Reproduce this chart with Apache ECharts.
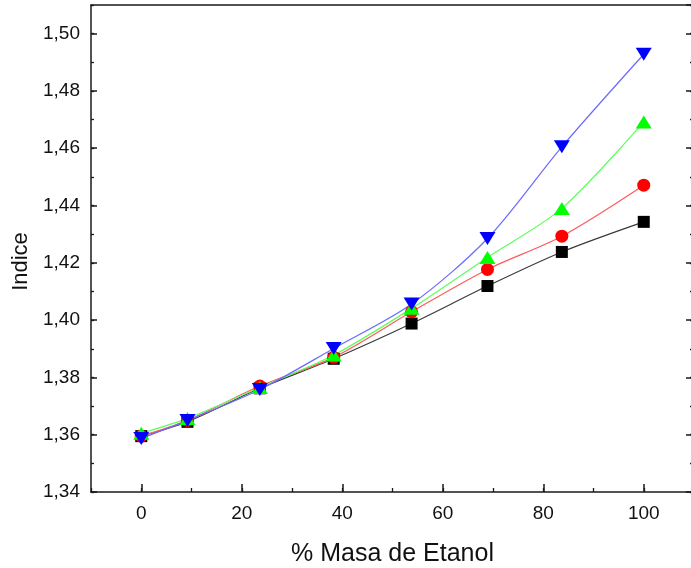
<!DOCTYPE html>
<html><head><meta charset="utf-8">
<script src="https://cdn.jsdelivr.net/npm/echarts@6/dist/echarts.min.js"></script>
<style>html,body{margin:0;padding:0;background:#fff}#c{width:691px;height:568px}</style>
</head><body><div id="c"></div>
<script>
// Data
const xValues = [0, 9.2, 23.6, 38.3, 53.8, 68.9, 83.7, 100];
const blackValues = [1.3595, 1.3645, 1.3762, 1.3865, 1.3988, 1.4119, 1.4238, 1.4343];
const redValues   = [1.3595, 1.3650, 1.3770, 1.3870, 1.4029, 1.4177, 1.4293, 1.4471];
const greenValues = [1.3605, 1.3657, 1.3765, 1.3878, 1.4041, 1.4219, 1.4390, 1.4692];
const blueValues  = [1.3587, 1.3650, 1.3758, 1.3901, 1.4056, 1.4285, 1.4605, 1.4928];
const xTickLabels = [0, 20, 40, 60, 80, 100];
const yTickLabels = ['1,34', '1,36', '1,38', '1,40', '1,42', '1,44', '1,46', '1,48', '1,50'];

const pairs = v => xValues.map((x, i) => [x, v[i]]);
const FONT = 'Liberation Sans, Arial, sans-serif';
const AX = '#1a1a1a';

const chart = echarts.init(document.getElementById('c'), null, {renderer: 'canvas'});

const baseX = {type: 'value', min: -10, max: 110, splitLine: {show: false}, gridIndex: 0};
const baseY = {type: 'value', min: 1.34, max: 1.51, splitLine: {show: false}, gridIndex: 0};

function mk(name, vals, lineColor, color, symbol, size, rotate) {
  return {
    name, type: 'line', xAxisIndex: 0, yAxisIndex: 0,
    data: pairs(vals), smooth: 0.3,
    symbol, symbolSize: size, symbolRotate: rotate || 0,
    showAllSymbol: true,
    lineStyle: {color: lineColor, width: 1.2},
    itemStyle: {color: color, borderWidth: 0},
    emphasis: {disabled: true},
    z: 3
  };
}

chart.setOption({
  animation: false,
  backgroundColor: '#fff',
  grid: {left: 91, top: 5, right: -3, height: 487, show: false, containLabel: false, outerBoundsMode: 'none'},
  xAxis: [
    Object.assign({}, baseX, {
      position: 'bottom', splitNumber: 6,
      axisLine: {show: true, onZero: false, lineStyle: {color: AX, width: 1.5}},
      axisTick: {show: true, inside: true, length: 8, lineStyle: {color: AX, width: 1.5}},
      axisLabel: {show: true, margin: 12, fontSize: 19, fontFamily: FONT, color: '#111',
        showMinLabel: false, showMaxLabel: false,
        formatter: v => xTickLabels.indexOf(Math.round(v)) >= 0 && Math.abs(v - Math.round(v)) < 1e-6 ? String(Math.round(v)) : ''},
      name: '% Masa de Etanol', nameLocation: 'middle', nameGap: 50,
      nameTextStyle: {fontSize: 25, fontFamily: FONT, color: '#111'}
    }),
    Object.assign({}, baseX, {
      position: 'bottom', interval: 10,
      axisLine: {show: false, onZero: false},
      axisTick: {show: true, inside: true, length: 4, lineStyle: {color: AX, width: 1.3}},
      axisLabel: {show: false}
    }),
    Object.assign({}, baseX, {
      position: 'top', interval: 10,
      axisLine: {show: true, onZero: false, lineStyle: {color: AX, width: 1.5}},
      axisTick: {show: false}, axisLabel: {show: false}
    })
  ],
  yAxis: [
    Object.assign({}, baseY, {
      position: 'left', interval: 0.02,
      axisLine: {show: true, onZero: false, lineStyle: {color: AX, width: 1.5}},
      axisTick: {show: true, inside: true, length: 6, lineStyle: {color: AX, width: 1.5}},
      axisLabel: {show: true, margin: 11, fontSize: 19, fontFamily: FONT, color: '#111',
        showMaxLabel: false,
        formatter: v => { const s = v.toFixed(2).replace('.', ','); return yTickLabels.indexOf(s) >= 0 ? s : ''; }},
      name: 'Indice', nameLocation: 'middle', nameGap: 55,
      nameTextStyle: {fontSize: 22, fontFamily: FONT, color: '#111', padding: [0, 26, 0, 0]}
    }),
    Object.assign({}, baseY, {
      position: 'left', interval: 0.01,
      axisLine: {show: false, onZero: false},
      axisTick: {show: true, inside: true, length: 3, lineStyle: {color: AX, width: 1.3}},
      axisLabel: {show: false}
    }),
    Object.assign({}, baseY, {
      position: 'right', interval: 0.02,
      axisLine: {show: true, onZero: false, lineStyle: {color: AX, width: 1.5}},
      axisTick: {show: true, inside: true, length: 8, lineStyle: {color: AX, width: 1.5}},
      axisLabel: {show: false}
    }),
    Object.assign({}, baseY, {
      position: 'right', interval: 0.01,
      axisLine: {show: false, onZero: false},
      axisTick: {show: true, inside: true, length: 4, lineStyle: {color: AX, width: 1.3}},
      axisLabel: {show: false}
    })
  ],
  series: [
    mk('negro', blackValues, '#3a3a3a', '#000000', 'rect', 12),
    mk('rojo', redValues, '#ff5a5a', '#ff0000', 'circle', 13),
    mk('verde', greenValues, '#5cff5c', '#00ff00', 'triangle', [16, 13]),
    mk('azul', blueValues, '#6a6aff', '#0000ff', 'triangle', [16, 13], 180)
  ]
});
</script>
</body></html>
